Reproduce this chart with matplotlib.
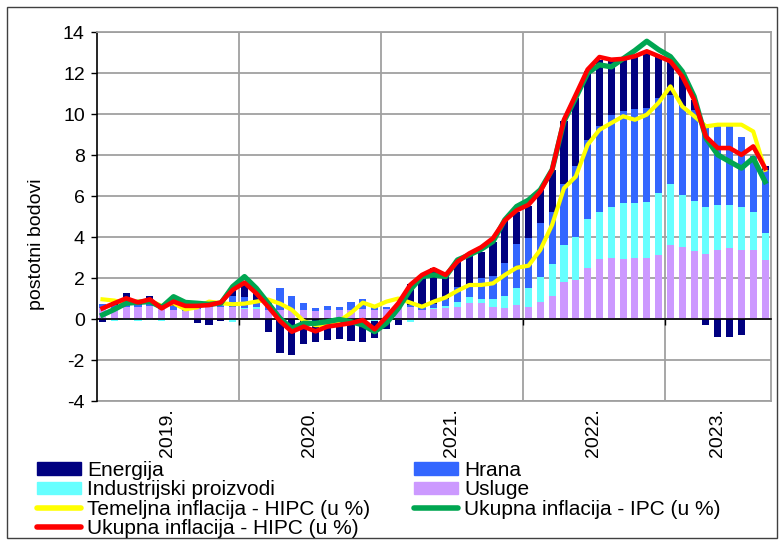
import matplotlib
matplotlib.use("Agg")
import matplotlib.pyplot as plt
import matplotlib.patches as mpatches
import matplotlib.lines as mlines
import numpy as np

plt.rcParams["font.family"] = ["Liberation Sans", "DejaVu Sans"]
plt.rcParams["axes.unicode_minus"] = False

# mjeseci sij. 2019. - ruj. 2023.
godine = ["2019.", "2020.", "2021.", "2022.", "2023."]
mjeseci_po_godini = [12, 12, 12, 12, 9]

# doprinosi (postotni bodovi)
usluge = [0.55, 0.5, 0.6, 0.6, 0.65, 0.5, 0.45, 0.4, 0.5, 0.6, 0.6, 0.6,
          0.5, 0.5, 0.45, 0.45, 0.45, 0.45, 0.4, 0.45, 0.45, 0.45, 0.5, 0.45,
          0.47, 0.6, 0.6, 0.45, 0.5, 0.55, 0.6, 0.8, 0.8, 0.6, 0.55, 0.68,
          0.6, 0.85, 1.14, 1.82, 1.9, 2.48, 2.93, 3.0, 2.92, 3.0, 3.0, 3.13,
          3.62, 3.49, 3.34, 3.18, 3.37, 3.45, 3.37, 3.37, 2.88]
industrija = [0.0, -0.1, -0.05, -0.1, -0.05, -0.1, 0.0, 0.0, 0.0, 0.0, 0.0, -0.15,
              0.05, 0.1, 0.0, 0.0, 0.0, 0.0, 0.0, 0.0, 0.0, 0.0, 0.0, -0.1,
              -0.05, -0.05, -0.15, 0.0, 0.05, 0.1, 0.25, 0.29, 0.16, 0.36, 0.59, 0.82,
              0.93, 1.19, 1.53, 1.8, 2.1, 2.41, 2.28, 2.46, 2.76, 2.65, 2.73, 3.01,
              2.98, 2.57, 2.43, 2.28, 2.17, 2.12, 2.09, 1.84, 1.31]
hrana = [0.2, 0.2, 0.2, 0.1, 0.1, 0.1, 0.2, 0.15, 0.1, 0.05, 0.1, 0.5,
         0.5, 0.35, 0.55, 1.05, 0.65, 0.33, 0.12, 0.2, 0.15, 0.36, 0.5, 0.15,
         0.13, 0.1, 0.1, 0.15, 0.2, 0.35, 0.73, 0.57, 1.03, 1.14, 1.58, 2.16,
         2.41, 2.63, 2.53, 2.96, 3.44, 3.86, 4.22, 4.51, 4.45, 4.61, 4.57, 4.64,
         4.34, 4.31, 4.43, 3.9, 3.89, 3.86, 3.44, 2.72, 3.09]
energija = [-0.15, 0.15, 0.45, 0.25, 0.35, 0.0, 0.1, 0.05, -0.2, -0.3, -0.1, 0.35,
            0.7, 0.4, -0.62, -1.64, -1.76, -1.22, -1.1, -1.03, -0.98, -1.06, -1.14, -0.85,
            -0.45, -0.25, 1.0, 1.5, 1.75, 1.15, 1.3, 1.47, 1.3, 1.68, 2.04, 1.58,
            1.55, 1.63, 2.08, 3.06, 3.34, 3.33, 3.22, 2.68, 2.52, 2.54, 2.76, 2.02,
            1.63, 1.47, 0.5, -0.3, -0.9, -0.9, -0.8, 0.0, 0.16]

# stope inflacije (u %)
temeljna_hipc = [0.96, 0.9, 0.77, 0.85, 0.9, 0.64, 0.77, 0.47, 0.57, 0.85, 0.77, 0.72,
                 0.75, 0.85, 0.95, 0.75, 0.45, -0.1, -0.3, -0.3, -0.1, 0.3, 0.8, 0.6,
                 0.85, 1.0, 0.8, 0.6, 0.85, 1.05, 1.38, 1.66, 1.66, 1.74, 2.15, 2.5,
                 2.6, 3.37, 4.6, 6.38, 6.95, 8.5, 9.23, 9.56, 9.89, 9.72, 9.97, 10.55,
                 11.35, 10.37, 9.9, 9.4, 9.48, 9.48, 9.48, 9.15, 7.28]
ukupna_ipc = [0.2, 0.47, 0.77, 0.81, 0.85, 0.57, 1.09, 0.81, 0.77, 0.72, 0.77, 1.58,
              2.07, 1.5, 0.77, 0.03, -0.46, -0.21, -0.21, -0.13, -0.02, -0.13, -0.29, -0.62,
              -0.2, 0.52, 1.42, 2.07, 2.15, 2.07, 2.88, 3.13, 3.4, 3.78, 4.84, 5.49,
              5.8, 6.3, 7.28, 9.64, 10.8, 12.0, 12.4, 12.3, 12.7, 13.1, 13.55, 13.14,
              12.8, 12.08, 10.86, 8.83, 8.01, 7.68, 7.36, 7.85, 6.7]
ukupna_hipc = [0.52, 0.77, 1.01, 0.81, 0.96, 0.52, 0.85, 0.64, 0.64, 0.68, 0.81, 1.42,
               1.77, 1.25, 0.6, -0.1, -0.62, -0.37, -0.6, -0.37, -0.29, -0.2, -0.05, -0.5,
               0.1, 0.77, 1.66, 2.15, 2.43, 2.15, 2.8, 3.2, 3.5, 3.94, 4.8, 5.3,
               5.57, 6.22, 7.28, 9.72, 10.94, 12.17, 12.78, 12.65, 12.69, 12.82, 13.06, 12.82,
               12.57, 11.84, 10.7, 8.9, 8.34, 8.34, 8.01, 8.42, 7.36]

BOJE = {
    "energija": "#000080",
    "hrana": "#3366ff",
    "industrija": "#66ffff",
    "usluge": "#cc99ff",
    "temeljna": "#ffff00",
    "ipc": "#00a651",
    "hipc": "#ff0000",
}
SIVA = "#a0a0a0"

n = len(usluge)
x = np.arange(n)

fig = plt.figure(figsize=(7.81, 5.4), dpi=100, facecolor="white")
ax = fig.add_axes([0.1237, 0.2574, 0.8635, 0.6833])

# stupci: pozitivni i negativni dio slazu se odvojeno
serije = [
    ("Usluge", usluge, BOJE["usluge"]),
    ("Industrijski proizvodi", industrija, BOJE["industrija"]),
    ("Hrana", hrana, BOJE["hrana"]),
    ("Energija", energija, BOJE["energija"]),
]
poz = np.zeros(n)
neg = np.zeros(n)
for naziv, vrijednosti, boja in serije:
    v = np.array(vrijednosti)
    dno = np.where(v >= 0, poz, neg)
    ax.bar(x, v, width=0.6, bottom=dno, color=boja, linewidth=0, zorder=2)
    poz = poz + np.clip(v, 0, None)
    neg = neg + np.clip(v, None, 0)

ax.plot(x, temeljna_hipc, color=BOJE["temeljna"], lw=3.0, zorder=4)
ax.plot(x, ukupna_ipc, color=BOJE["ipc"], lw=3.8, zorder=5)
ax.plot(x, ukupna_hipc, color=BOJE["hipc"], lw=3.3, zorder=6)

ax.set_xlim(-0.5, n - 0.5)
ax.set_ylim(-4, 14)
ax.set_yticks(np.arange(-4, 15, 2))
ax.tick_params(axis="y", labelsize=14, length=4.5, width=1, pad=4, direction="out")

# granice godina
granice = np.cumsum(mjeseci_po_godini)[:-1] - 0.5
ax.set_xticks(granice)
ax.set_xticklabels([])
ax.tick_params(axis="x", length=4, width=1, direction="out", color="black")
ax.grid(True, color=SIVA, linewidth=1.3, zorder=0)
ax.set_axisbelow(True)

ax.spines["bottom"].set_position(("data", 0))
ax.spines["bottom"].set_color("black")
ax.spines["bottom"].set_linewidth(1.2)
ax.spines["bottom"].set_zorder(3)
ax.spines["left"].set_color("black")
ax.spines["left"].set_linewidth(1.2)
for s in ("top", "right"):
    ax.spines[s].set_color(SIVA)
    ax.spines[s].set_linewidth(1.3)
ax.axhline(-4, color=SIVA, lw=1.3, zorder=0, clip_on=False)

# oznake godina ispod grafa
pocetak = 0
for godina, broj in zip(godine, mjeseci_po_godini):
    sredina = pocetak + (broj - 1) / 2
    ax.text(sredina, -0.02, godina, transform=ax.get_xaxis_transform(),
            rotation=90, ha="center", va="top", fontsize=14)
    pocetak += broj

ax.set_ylabel("postotni bodovi", fontsize=14)
ax.yaxis.set_label_coords(-0.076, 0.425)

# legenda (redoslijed po stupcima)
h_en = mpatches.Patch(color=BOJE["energija"], label="Energija")
h_hr = mpatches.Patch(color=BOJE["hrana"], label="Hrana")
h_ind = mpatches.Patch(color=BOJE["industrija"], label="Industrijski proizvodi")
h_usl = mpatches.Patch(color=BOJE["usluge"], label="Usluge")
h_tem = mlines.Line2D([], [], color=BOJE["temeljna"], lw=4, solid_capstyle="round",
                      label="Temeljna inflacija - HIPC (u %)")
h_ipc = mlines.Line2D([], [], color=BOJE["ipc"], lw=4, solid_capstyle="round",
                      label="Ukupna inflacija - IPC (u %)")
h_hipc = mlines.Line2D([], [], color=BOJE["hipc"], lw=4, solid_capstyle="round",
                       label="Ukupna inflacija - HIPC (u %)")
fig.legend(handles=[h_en, h_ind, h_tem, h_hipc, h_hr, h_usl, h_ipc],
           loc="upper left", bbox_to_anchor=(37 / 781, 1 - 461 / 540),
           ncol=2, frameon=False, fontsize=15, borderpad=0, borderaxespad=0,
           handlelength=2.1, handleheight=0.55, handletextpad=0.3,
           labelspacing=0.02, columnspacing=2.1)

# okvir oko cijele slike
fig.patches.append(mpatches.Rectangle((7 / 781, 2 / 540), 770 / 781, 531 / 540,
                                      transform=fig.transFigure, fill=False,
                                      edgecolor="#404040", linewidth=1))

fig.savefig("out.png", dpi=100, facecolor="white")
